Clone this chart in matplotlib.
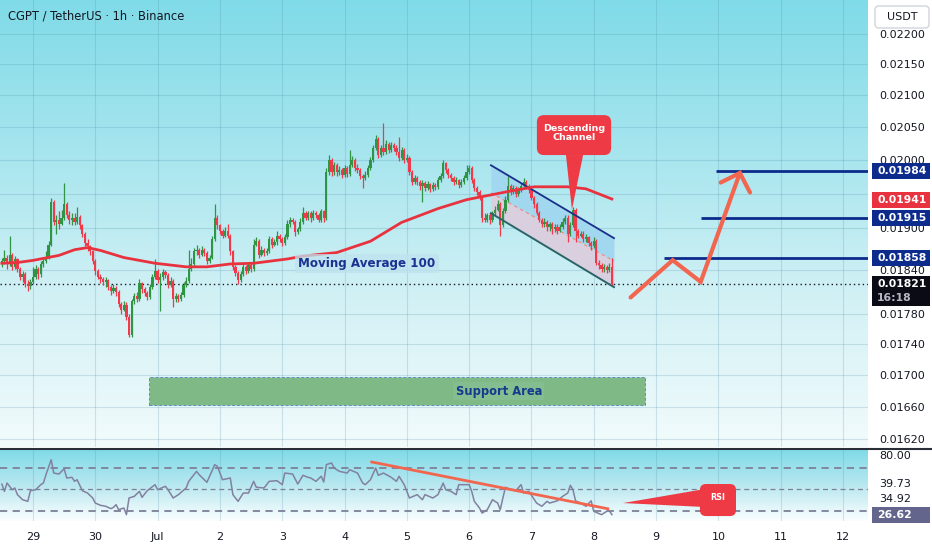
import numpy as np
import matplotlib
matplotlib.use("Agg")
import matplotlib.pyplot as plt
from matplotlib.patches import Rectangle, FancyBboxPatch, Polygon
from matplotlib.lines import Line2D
from matplotlib.transforms import IdentityTransform
from matplotlib.colors import LinearSegmentedColormap
from matplotlib.ticker import NullLocator, NullFormatter

# ---------------- data (prices in units of 1e-5 USDT) ----------------
first_hour = -12          # hours relative to 29 Jun 00:00, one candle per hour
first_open_e5 = 1849
close_e5 = [
    1853, 1858, 1849, 1861, 1845, 1856, 1842, 1831, 1835, 1821, 1819, 1824,
    1831, 1842, 1835, 1849, 1853, 1858, 1876, 1938, 1909, 1912, 1906, 1915,
    1935, 1919, 1912, 1915, 1909, 1916, 1904, 1891, 1878, 1874, 1867, 1853,
    1839, 1831, 1828, 1824, 1827, 1817, 1812, 1816, 1810, 1794, 1786, 1793,
    1777, 1753, 1798, 1805, 1801, 1823, 1814, 1809, 1804, 1817, 1831, 1839,
    1827, 1831, 1838, 1834, 1820, 1825, 1801, 1805, 1801, 1806, 1820, 1825,
    1842, 1849, 1867, 1869, 1862, 1869, 1864, 1853, 1858, 1884, 1915, 1904,
    1895, 1889, 1895, 1889, 1867, 1845, 1836, 1827, 1835, 1845, 1839, 1847,
    1842, 1876, 1881, 1862, 1869, 1864, 1867, 1884, 1876, 1880, 1889, 1884,
    1878, 1887, 1905, 1912, 1909, 1894, 1898, 1909, 1922, 1915, 1921, 1914,
    1922, 1918, 1912, 1924, 1914, 1982, 2000, 1982, 1992, 1982, 1985, 1978,
    1988, 1979, 1992, 2000, 1988, 1985, 1976, 1973, 1978, 1988, 2000, 2018,
    2032, 2008, 2018, 2012, 2024, 2015, 2023, 2018, 2012, 2003, 2015, 2000,
    2003, 1982, 1967, 1973, 1967, 1961, 1966, 1958, 1964, 1957, 1963, 1960,
    1970, 1976, 1995, 1985, 1978, 1973, 1967, 1970, 1963, 1967, 1973, 1982,
    1988, 1970, 1958, 1953, 1944, 1915, 1912, 1918, 1912, 1921, 1926, 1935,
    1904, 1924, 1941, 1961, 1953, 1958, 1950, 1955, 1961, 1967, 1961, 1955,
    1944, 1934, 1922, 1912, 1906, 1909, 1901, 1905, 1898, 1902, 1896, 1901,
    1909, 1915, 1891, 1904, 1926, 1895, 1889, 1892, 1884, 1887, 1878, 1874,
    1882, 1851, 1847, 1842, 1845, 1840, 1845, 1821,
]
high_e5 = [
    1858, 1869, 1862, 1888, 1864, 1860, 1858, 1845, 1839, 1838, 1827, 1828,
    1845, 1847, 1845, 1853, 1858, 1867, 1881, 1944, 1941, 1919, 1924, 1926,
    1966, 1938, 1924, 1921, 1922, 1931, 1919, 1906, 1894, 1884, 1876, 1869,
    1856, 1842, 1835, 1831, 1831, 1828, 1820, 1821, 1819, 1813, 1797, 1798,
    1796, 1780, 1801, 1809, 1810, 1828, 1824, 1817, 1812, 1821, 1835, 1856,
    1842, 1836, 1842, 1840, 1836, 1831, 1828, 1809, 1808, 1810, 1824, 1831,
    1869, 1858, 1872, 1875, 1872, 1874, 1871, 1867, 1862, 1889, 1934, 1918,
    1906, 1899, 1901, 1905, 1892, 1869, 1847, 1839, 1839, 1849, 1847, 1851,
    1850, 1884, 1887, 1884, 1874, 1872, 1871, 1888, 1887, 1884, 1895, 1892,
    1887, 1891, 1911, 1916, 1915, 1912, 1902, 1914, 1931, 1925, 1925, 1924,
    1926, 1925, 1922, 1928, 1926, 1988, 2008, 2003, 1997, 1995, 1991, 1988,
    1992, 1991, 2015, 2006, 2003, 1994, 1988, 1979, 1983, 1992, 2005, 2023,
    2038, 2035, 2023, 2057, 2030, 2027, 2027, 2026, 2023, 2035, 2020, 2018,
    2009, 2006, 1985, 1978, 1976, 1970, 1970, 1969, 1969, 1966, 1967, 1966,
    1975, 1980, 2000, 1997, 1988, 1980, 1976, 1975, 1972, 1972, 1978, 1992,
    1992, 1991, 1973, 1961, 1955, 1947, 1922, 1922, 1921, 1925, 1932, 1941,
    1938, 1929, 1947, 1976, 1964, 1963, 1961, 1960, 1966, 1973, 1970, 1964,
    1958, 1947, 1937, 1925, 1915, 1915, 1912, 1909, 1908, 1906, 1905, 1905,
    1914, 1919, 1918, 1909, 1931, 1929, 1898, 1896, 1895, 1891, 1889, 1881,
    1887, 1884, 1854, 1850, 1849, 1847, 1850, 1858,
]
low_e5 = [
    1845, 1849, 1842, 1846, 1840, 1842, 1838, 1827, 1824, 1817, 1812, 1814,
    1821, 1828, 1828, 1831, 1845, 1850, 1856, 1874, 1904, 1891, 1898, 1904,
    1912, 1915, 1906, 1904, 1904, 1905, 1898, 1887, 1874, 1867, 1861, 1849,
    1834, 1828, 1823, 1820, 1817, 1813, 1806, 1809, 1805, 1790, 1781, 1784,
    1772, 1750, 1750, 1794, 1797, 1798, 1809, 1805, 1800, 1801, 1814, 1828,
    1823, 1785, 1827, 1830, 1816, 1817, 1790, 1797, 1797, 1798, 1804, 1817,
    1823, 1839, 1846, 1862, 1858, 1860, 1860, 1849, 1850, 1856, 1881, 1899,
    1891, 1885, 1887, 1885, 1862, 1840, 1832, 1821, 1824, 1832, 1835, 1836,
    1838, 1839, 1874, 1858, 1860, 1860, 1861, 1864, 1872, 1874, 1876, 1880,
    1874, 1875, 1884, 1902, 1905, 1888, 1891, 1895, 1906, 1911, 1912, 1909,
    1911, 1914, 1908, 1909, 1909, 1911, 1978, 1976, 1978, 1976, 1978, 1973,
    1975, 1975, 1976, 1989, 1983, 1980, 1972, 1958, 1970, 1975, 1985, 1997,
    2015, 2003, 2005, 2008, 2009, 2011, 2012, 2014, 2008, 1998, 2000, 1995,
    1997, 1978, 1963, 1964, 1963, 1955, 1938, 1954, 1955, 1953, 1954, 1955,
    1957, 1967, 1973, 1980, 1973, 1969, 1963, 1964, 1958, 1960, 1964, 1970,
    1979, 1966, 1954, 1948, 1940, 1909, 1908, 1909, 1906, 1909, 1918, 1924,
    1888, 1901, 1921, 1938, 1948, 1950, 1945, 1947, 1953, 1958, 1957, 1951,
    1940, 1929, 1918, 1908, 1902, 1902, 1896, 1896, 1892, 1894, 1892, 1894,
    1898, 1906, 1880, 1888, 1901, 1880, 1885, 1887, 1880, 1880, 1874, 1869,
    1871, 1847, 1842, 1838, 1838, 1836, 1838, 1819,
]

# Moving average 100: (hour, price e-5)
ma_points = [(-12, 1850), (-6, 1851), (0, 1854), (10, 1861), (16, 1869), (21, 1872),
             (26, 1868), (35, 1858), (47, 1850), (59, 1845), (67, 1845), (76, 1849),
             (85, 1850), (98, 1856), (104, 1860), (117, 1865), (130, 1881), (142, 1908),
             (156, 1928), (167, 1941), (175, 1947), (183, 1953), (193, 1960), (206, 1960),
             (213, 1957), (223, 1942)]

# RSI: (hour, value)
rsi_points = [
    (-12, 55.0), (-11, 48.3), (-10, 56.0), (-8, 49.8), (-7, 51.4), (-6, 45.2), (-4, 40.5),
    (-2, 39.0), (-1, 48.9), (1, 49.8), (3, 54.5), (4, 56.0), (5, 63.8), (7, 77.7), (8, 65.3),
    (10, 64.4), (12, 69.3), (13, 60.7), (15, 61.3), (16, 57.6), (17, 59.1), (19, 48.9),
    (21, 46.7), (23, 42.1), (24, 37.4), (26, 35.3), (28, 34.4), (30, 32.2), (31, 33.4),
    (32, 35.9), (33, 31.2), (35, 32.8), (36, 26.6), (37, 42.1), (39, 43.6), (41, 48.3),
    (42, 42.7), (44, 48.9), (47, 54.5), (48, 49.8), (51, 53.0), (52, 49.8), (54, 42.1),
    (56, 45.2), (59, 51.4), (60, 57.6), (63, 66.9), (64, 63.8), (67, 56.7), (70, 73.1),
    (71, 71.6), (73, 59.1), (76, 60.7), (77, 45.2), (79, 39.0), (81, 46.7), (83, 46.7),
    (85, 57.6), (86, 52.1), (89, 51.4), (91, 57.6), (94, 58.2), (96, 54.5), (97, 65.3),
    (100, 64.4), (102, 55.1), (104, 63.2), (106, 61.3), (107, 60.7), (109, 57.6),
    (111, 62.3), (112, 57.0), (113, 73.1), (115, 74.7), (116, 70.0), (118, 66.9),
    (121, 65.3), (122, 68.4), (125, 65.3), (127, 56.0), (128, 54.5), (130, 59.1),
    (132, 70.0), (133, 63.2), (135, 65.3), (138, 61.3), (140, 57.6), (141, 62.3),
    (143, 54.5), (145, 42.1), (148, 45.2), (150, 40.5), (151, 45.2), (154, 42.1),
    (156, 45.2), (158, 56.0), (159, 49.8), (161, 48.3), (163, 45.2), (164, 54.5),
    (168, 54.5), (169, 48.3), (170, 39.0), (172, 32.8), (173, 28.1), (175, 31.2),
    (177, 40.5), (179, 37.4), (180, 31.2), (181, 42.1), (182, 52.1), (184, 49.8),
    (186, 48.9), (188, 54.5), (189, 46.7), (191, 48.3), (194, 37.4), (196, 34.4),
    (198, 39.0), (199, 37.4), (202, 39.5), (204, 43.6), (206, 46.7), (207, 53.9),
    (208, 49.8), (209, 39.5), (211, 37.4), (213, 34.4), (215, 39.5), (216, 29.7),
    (219, 26.6), (221, 29.7), (222, 30.3), (223, 26.62),
]

day_ticks = [0, 24, 48, 72, 96, 120, 144, 168, 192, 216, 240, 264, 288, 312]
day_labels = ['29', '30', 'Jul', '2', '3', '4', '5', '6', '7', '8', '9', '10', '11', '12']
price_ticks = [0.0162, 0.0166, 0.0170, 0.0174, 0.0178, 0.0184, 0.0190, 0.0195,
               0.0200, 0.0205, 0.0210, 0.0215, 0.0220]
hidden_tick_labels = [0.0195]          # fully covered by price badges in the reference
rsi_levels = [70, 50, 30]

last_price = 0.01821
ma_last = 0.01941
rsi_last = 26.62
rsi_side_labels = ['39.73', '34.92']
targets = [(0.01858, 243.1), (0.01915, 257.2), (0.01984, 263.1)]      # (price, start hour)
support = (44.7, 235.7, 0.016621, 0.016972)                           # h0, h1, p_lo, p_hi
chan_h = [176.4, 223.8]
chan_upper = [0.019922, 0.018854]
chan_mid = [0.019511, 0.018530]
chan_lower = [0.019213, 0.018169]
arrow_path = [(230.2, 0.018028), (246.4, 0.018543), (257.2, 0.018242), (272.3, 0.019806)]
arrow_head = [(264.9, 0.019663), (272.3, 0.019806), (276.2, 0.019516)]
rsi_trend = [(130.5, 75.6), (221.4, 32.1)]
desc_box = (194.1, 222.7, 0.020076, 0.020691)
desc_ptr = [(205.3, 0.020076), (211.9, 0.020076), (207.6, 0.019263)]
rsi_box = (256.9, 270.8, 25.3, 55.1)
rsi_ptr = [(227.3, 37.4), (258.9, 50.5), (258.9, 33.7)]

# ---------------- styling ----------------
GREEN = '#2f9443'
RED = '#f03a4b'
NAVY = '#0c2b8c'
CALLOUT = '#ee3a45'
SALMON = '#f2654f'
TXT = '#131722'
GRID = (0.30, 0.55, 0.65, 0.22)

W, H = 932, 550
fig = plt.figure(figsize=(W / 100, H / 100), dpi=100)
fig.patch.set_facecolor('white')
plt.rcParams['font.family'] = ['DejaVu Sans']


def frac_rect(x0, y0, x1, y1):
    return [x0 / W, 1 - y1 / H, (x1 - x0) / W, (y1 - y0) / H]


PX_R = 868
price_rect = frac_rect(0, 0, PX_R, 447)
rsi_rect = frac_rect(0, 450, PX_R, 521)


def gradient_bg(rect, colors):
    bg = fig.add_axes(rect, zorder=0)
    cmap = LinearSegmentedColormap.from_list('g', colors)
    grad = np.linspace(0, 1, 256).reshape(-1, 1)
    bg.imshow(grad, aspect='auto', cmap=cmap, origin='upper', extent=[0, 1, 0, 1])
    bg.set_axis_off()


gradient_bg(price_rect, ['#80dbe8', '#a6e5ee', '#d2f1f5', '#f2fbfc'])
gradient_bg(rsi_rect, ['#80dbe8', '#b9e8f0', '#fbfeff'])

XLIM = (-12.71, 321.65)
ax = fig.add_axes(price_rect, zorder=1)
ax.set_facecolor('none')
ax.set_yscale('log')
ax.set_xlim(*XLIM)
ax.set_ylim(0.016102, 0.022571)
for s in ax.spines.values():
    s.set_visible(False)
ax.yaxis.set_minor_locator(NullLocator())
ax.yaxis.set_minor_formatter(NullFormatter())
ax.set_yticks(price_ticks)
ax.set_yticklabels(['' if t in hidden_tick_labels else f'{t:.5f}' for t in price_ticks])
ax.yaxis.tick_right()
ax.tick_params(axis='y', length=0, pad=8, labelsize=8, labelcolor=TXT)
ax.set_xticks(day_ticks)
ax.tick_params(axis='x', length=0, labelbottom=False)

axr = fig.add_axes(rsi_rect, zorder=1)
axr.set_facecolor('none')
axr.set_xlim(*XLIM)
axr.set_ylim(20.7, 86.74)
for s in axr.spines.values():
    s.set_visible(False)
axr.set_yticks([])
axr.set_xticks(day_ticks)
axr.set_xticklabels(day_labels)
axr.tick_params(axis='x', length=0, pad=8, labelsize=8, labelcolor=TXT)

# grid
for t in price_ticks:
    ax.axhline(t, color=GRID, lw=0.8, zorder=0.5)
for d in day_ticks:
    ax.axvline(d, color=GRID, lw=0.8, zorder=0.5)
    axr.axvline(d, color=GRID, lw=0.8, zorder=0.5)

# support area
h0, h1, plo, phi = support
ax.add_patch(Rectangle((h0, plo), h1 - h0, phi - plo, fc='#7fba86', ec='#5b8fc4',
                       lw=0.7, ls=(0, (3, 2)), zorder=2))
ax.text((h0 + h1) / 2 + 39.3, np.sqrt(plo * phi), 'Support Area', ha='center', va='center',
        fontsize=8.3, fontweight='bold', color='#163a8e', zorder=3,
        bbox=dict(boxstyle='square,pad=0.2', fc='#84bd90', ec='none'))

# descending channel
ax.fill_between(chan_h, chan_upper, chan_mid, color='#a2d7f0', lw=0, zorder=2)
ax.fill_between(chan_h, chan_mid, chan_lower, color='#d9cfdf', lw=0, zorder=2)
ax.plot(chan_h, chan_upper, color='#1a2f8a', lw=1.3, zorder=6)
ax.plot(chan_h, chan_lower, color='#2b6468', lw=1.4, zorder=6)
ax.plot(chan_h, chan_mid, color='#f08a7a', lw=0.8, ls=(0, (3, 3)), zorder=2.5)

# candles
close = np.array(close_e5) / 1e5
high = np.array(high_e5) / 1e5
low = np.array(low_e5) / 1e5
hours = first_hour + np.arange(len(close))
opn = np.r_[first_open_e5 / 1e5, close[:-1]]
high = np.maximum(high, np.maximum(opn, close))
low = np.minimum(low, np.minimum(opn, close))
cols = [GREEN if c >= o else RED for o, c in zip(opn, close)]
ax.vlines(hours, low, high, colors=cols, lw=0.9, zorder=4)
ax.bar(hours, np.maximum(np.abs(close - opn), 0.000014), bottom=np.minimum(opn, close),
       width=0.86, color=cols, lw=0, zorder=5)

# MA 100
ma_h, ma_v = zip(*ma_points)
ax.plot(ma_h, np.array(ma_v) / 1e5, color='#e8333f', lw=2.0, zorder=6)
ax.text(128.7, 0.01850, 'Moving Average 100', ha='center', va='center', fontsize=8.6,
        fontweight='bold', color='#1a3290', zorder=7,
        bbox=dict(boxstyle='square,pad=0.25', fc='#bfe3ef', ec='none', alpha=0.75))

# last price dotted line
ax.axhline(last_price, color=TXT, lw=1.0, ls=(0, (1, 2.2)), zorder=3)

# target levels
for p, hs in targets:
    ax.hlines(p, hs, XLIM[1], color=NAVY, lw=2.0, zorder=6)

# projected path arrow
ax.plot(*zip(*arrow_path), color=SALMON, lw=3, solid_capstyle='round',
        solid_joinstyle='miter', zorder=7)
ax.plot(*zip(*arrow_head), color=SALMON, lw=3, solid_capstyle='round',
        solid_joinstyle='miter', zorder=7)


def rounded_box(a, box, fc, r=6):
    x0, x1, y0, y1 = box
    (dx0, dy0) = a.transData.transform((x0, y0))
    (dx1, dy1) = a.transData.transform((x1, y1))
    p = FancyBboxPatch((min(dx0, dx1), min(dy0, dy1)), abs(dx1 - dx0), abs(dy1 - dy0),
                       boxstyle=f'round,pad=0,rounding_size={r}', transform=IdentityTransform(),
                       fc=fc, ec='none', zorder=8)
    a.add_artist(p)


# descending channel callout
rounded_box(ax, desc_box, CALLOUT, r=7)
ax.add_patch(Polygon(desc_ptr, closed=True, fc=CALLOUT, ec='none', zorder=8))
ax.text((desc_box[0] + desc_box[1]) / 2, np.sqrt(desc_box[2] * desc_box[3]) * 1.0015,
        'Descending\nChannel', ha='center', va='center', fontsize=6.8, fontweight='bold',
        color='white', linespacing=1.05, zorder=9)

# RSI pane
for lv, lw in zip(rsi_levels, (1.3, 0.9, 1.3)):
    axr.axhline(lv, color='#7d8097', lw=lw, ls=(0, (4, 3)), zorder=1)
rh, rv = zip(*rsi_points)
axr.plot(rh, rv, color='#82819f', lw=1.1, zorder=3)
axr.plot(*zip(*rsi_trend), color=SALMON, lw=2.0, zorder=4)
rounded_box(axr, rsi_box, CALLOUT, r=6)
axr.add_patch(Polygon(rsi_ptr, closed=True, fc=CALLOUT, ec='none', zorder=8))
axr.text((rsi_box[0] + rsi_box[1]) / 2, 43.0, 'RSI', ha='center', va='center',
         fontsize=5.8, fontweight='bold', color='white', zorder=9)


# ---------------- right axis badges ----------------
def badge(a, value, text, fc, h=16, top=8, sub=None):
    _, yd = a.transData.transform((0, value))
    bottom = yd - (h - top) if sub is None else yd - 22
    height = h if sub is None else top + 22
    fig.add_artist(Rectangle((872, bottom), 58, height, transform=IdentityTransform(),
                             fc=fc, ec='none', zorder=20))
    fig.text(877, yd, text, transform=IdentityTransform(), ha='left', va='center',
             fontsize=7.8, fontweight='bold', color='white', zorder=21)
    if sub is not None:
        fig.text(877, yd - 14, sub, transform=IdentityTransform(), ha='left', va='center',
                 fontsize=7.8, fontweight='bold', color='#b5b8c4', zorder=21)


for p, _ in targets:
    badge(ax, p, f'{p:.5f}', NAVY)
badge(ax, ma_last, f'{ma_last:.5f}', '#e8323f')
badge(ax, last_price, f'{last_price:.5f}', '#0b0b16', sub='16:18')
badge(axr, rsi_last, f'{rsi_last:.2f}', '#63658d')

# RSI axis labels
_, y80 = axr.transData.transform((0, 80))
fig.text(879, y80 + 1, '80.00', transform=IdentityTransform(), ha='left', va='center',
         fontsize=8, color=TXT, zorder=21)
for lab, ypx in zip(rsi_side_labels, (484, 499)):
    fig.text(879, H - ypx, lab, transform=IdentityTransform(), ha='left', va='center',
             fontsize=8, color=TXT, zorder=21)

# USDT box
fig.add_artist(FancyBboxPatch((875, H - 28), 54, 22, boxstyle='round,pad=0,rounding_size=4',
                              transform=IdentityTransform(), fc='white', ec='#d1d4dc',
                              lw=1.0, zorder=22))
fig.text(902, H - 17, 'USDT', transform=IdentityTransform(), ha='center', va='center',
         fontsize=8, color=TXT, zorder=23)

# pane separator
fig.add_artist(Line2D([0, W], [H - 449, H - 449], transform=IdentityTransform(),
                      color='#2a2e39', lw=1.5, zorder=19))

# title
fig.text(8, H - 16, 'CGPT / TetherUS · 1h · Binance', transform=IdentityTransform(),
         ha='left', va='center', fontsize=8.3, color=TXT, zorder=21)

fig.savefig('out.png', dpi=100, facecolor=fig.get_facecolor())
